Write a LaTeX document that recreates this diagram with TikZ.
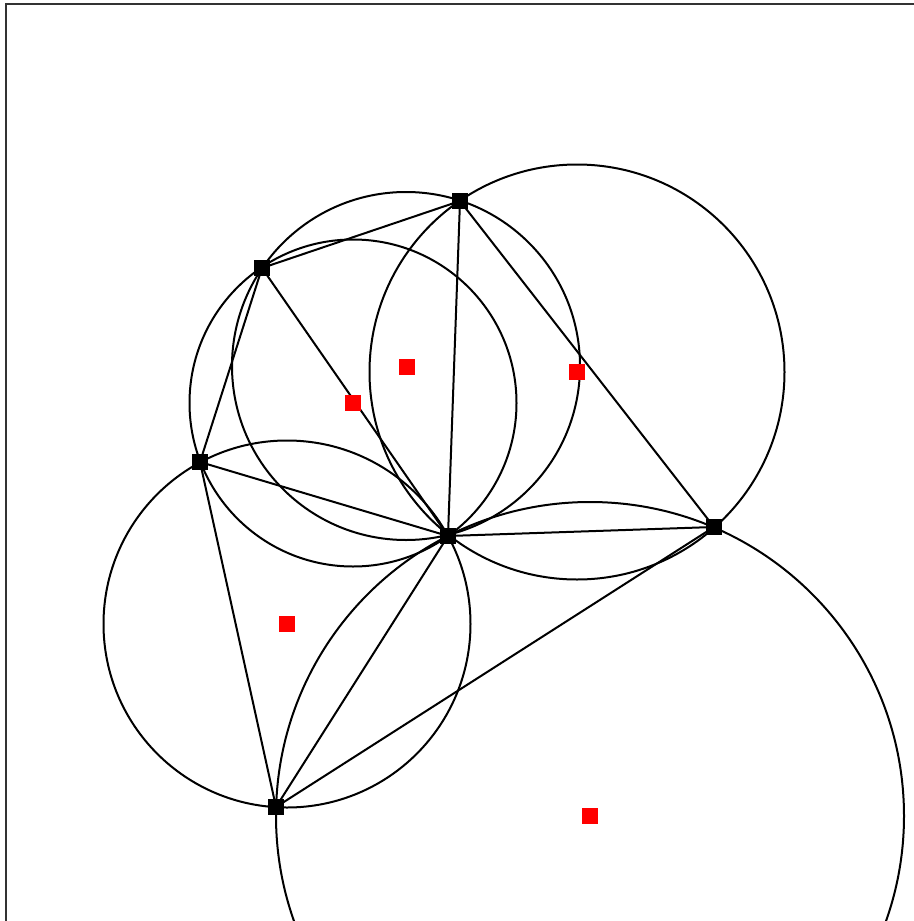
\documentclass[tikz,border=0pt]{standalone}
\begin{document}
\begin{tikzpicture}[x=0.5pt,y=-0.5pt,
  edge/.style={black,line width=1pt},
  circ/.style={black,line width=1pt},
  site/.style={fill=black,draw=none,minimum size=8pt,inner sep=0pt,rectangle},
  ctr/.style={fill=red,draw=none,minimum size=8pt,inner sep=0pt,rectangle}]
\useasboundingbox (0,0) rectangle (914,921);
\clip (0,0) rectangle (914,921);
\draw[line width=1pt,black!80] (6,4) rectangle (960,960);
% circumcircles
\draw[circ] (406,366) circle (174);
\draw[circ] (353,403) circle (163.5);
\draw[circ] (577,372) circle (207.5);
\draw[circ] (287,624) circle (183.5);
\draw[circ] (590,816) circle (314);
% sites
\node[site] (A) at (460,201) {};
\node[site] (B) at (262,268) {};
\node[site] (C) at (200,462) {};
\node[site] (D) at (448,536) {};
\node[site] (E) at (714,527) {};
\node[site] (F) at (276,807) {};
% edges
\draw[edge] (A.center) -- (B.center);
\draw[edge] (A.center) -- (D.center);
\draw[edge] (A.center) -- (E.center);
\draw[edge] (B.center) -- (D.center);
\draw[edge] (B.center) -- (C.center);
\draw[edge] (C.center) -- (D.center);
\draw[edge] (C.center) -- (F.center);
\draw[edge] (D.center) -- (E.center);
\draw[edge] (D.center) -- (F.center);
\draw[edge] (E.center) -- (F.center);
% redraw sites on top
\foreach \n in {A,B,C,D,E,F} \fill (\n.center) ++(-8,-8) rectangle ++(16,16);
% centres
\node[ctr] (c1) at (406.5,366.5) {};
\node[ctr] (c2) at (353,403) {};
\node[ctr] (c3) at (577,372) {};
\node[ctr] (c4) at (287,624) {};
\node[ctr] (c5) at (590,816) {};
\end{tikzpicture}
\end{document}
